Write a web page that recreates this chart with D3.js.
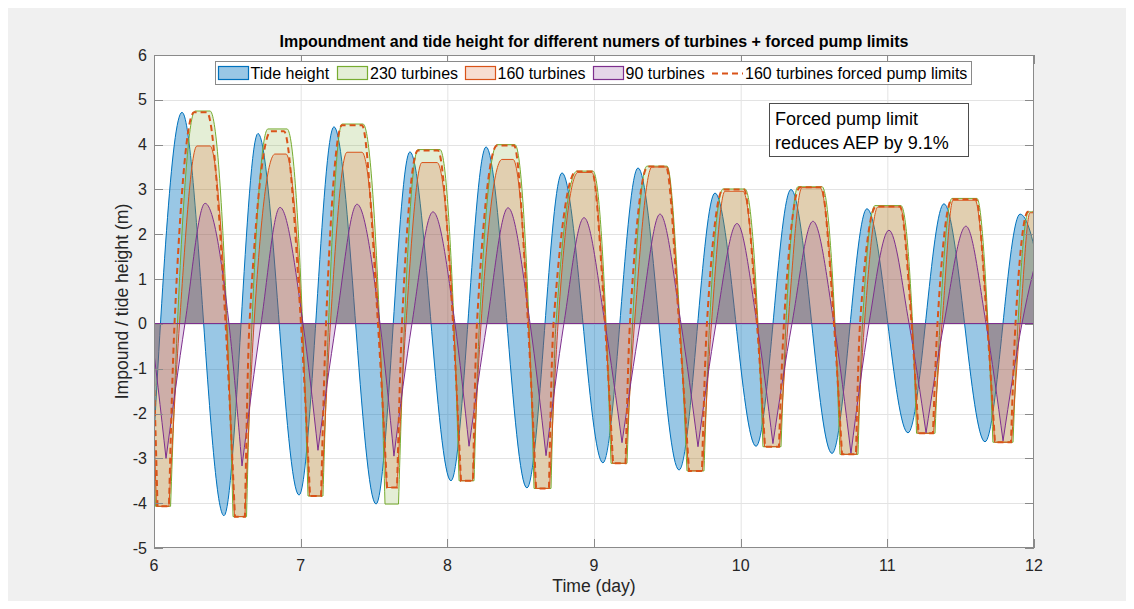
<!DOCTYPE html>
<html><head><meta charset="utf-8">
<script src="https://cdn.jsdelivr.net/npm/d3@7"></script>
<style>html,body{margin:0;padding:0;background:#fff;}svg{display:block;font-family:"Liberation Sans",Arial,Helvetica,sans-serif;}</style>
</head><body><svg id="c" width="1134" height="609"></svg>
<script>
// ---------- data ----------
const xTicks = [6, 7, 8, 9, 10, 11, 12];
const yTicks = [-5, -4, -3, -2, -1, 0, 1, 2, 3, 4, 5, 6];
const legendLabels = ["Tide height", "230 turbines", "160 turbines", "90 turbines", "160 turbines forced pump limits"];

// tide extremes (time in days, height in m)
const tideTime = [5.980, 6.191, 6.477, 6.709, 6.989, 7.227, 7.514, 7.745, 8.025, 8.264, 8.543, 8.782, 9.061, 9.300, 9.580, 9.825, 10.105, 10.343, 10.623, 10.861, 11.141, 11.386, 11.666, 11.905, 12.184];
const tideHeight = [-3.72, 4.72, -4.28, 4.25, -3.82, 4.40, -4.02, 3.84, -3.50, 3.95, -3.66, 3.37, -3.10, 3.48, -3.26, 2.92, -2.73, 3.00, -2.89, 2.57, -2.43, 2.68, -2.63, 2.45, -2.20];

// 230 turbines impoundment key points
const t230Time = [5.870, 5.973, 6.010, 6.113, 6.160, 6.280, 6.382, 6.498, 6.539, 6.631, 6.668, 6.777, 6.907, 7.013, 7.050, 7.152, 7.190, 7.282, 7.425, 7.538, 7.575, 7.667, 7.708, 7.800, 7.950, 8.045, 8.080, 8.182, 8.219, 8.339, 8.461, 8.557, 8.591, 8.707, 8.741, 8.884, 8.993, 9.082, 9.116, 9.225, 9.263, 9.361, 9.498, 9.586, 9.634, 9.750, 9.788, 9.880, 10.030, 10.118, 10.152, 10.275, 10.309, 10.391, 10.555, 10.643, 10.677, 10.800, 10.831, 10.916, 11.093, 11.172, 11.199, 11.325, 11.359, 11.441, 11.611, 11.686, 11.720, 11.857, 11.891, 11.963, 12.143];
const t230Level = [4.40, 0, -4.07, -4.07, 0, 4.75, 4.75, 0, -4.30, -4.30, 0, 4.35, 4.35, 0, -3.84, -3.84, 0, 4.46, 4.46, 0, -4.02, -4.02, 0, 3.89, 3.89, 0, -3.50, -3.50, 0, 4.00, 4.00, 0, -3.67, -3.67, 0, 3.41, 3.41, 0, -3.11, -3.11, 0, 3.52, 3.52, 0, -3.28, -3.28, 0, 3.01, 3.01, 0, -2.74, -2.74, 0, 3.06, 3.06, 0, -2.91, -2.91, 0, 2.64, 2.64, 0, -2.44, -2.44, 0, 2.80, 2.80, 0, -2.64, -2.64, 0, 2.50, 2.50];

// 160 turbines
const t160Time = [5.884, 5.973, 6.017, 6.102, 6.174, 6.293, 6.382, 6.494, 6.549, 6.620, 6.682, 6.825, 6.900, 7.009, 7.060, 7.142, 7.203, 7.316, 7.418, 7.534, 7.585, 7.657, 7.718, 7.827, 7.930, 8.042, 8.090, 8.172, 8.230, 8.373, 8.448, 8.553, 8.601, 8.697, 8.755, 8.891, 8.986, 9.078, 9.126, 9.215, 9.276, 9.395, 9.498, 9.583, 9.644, 9.740, 9.801, 9.893, 10.016, 10.115, 10.163, 10.265, 10.323, 10.418, 10.541, 10.640, 10.688, 10.790, 10.844, 10.936, 11.086, 11.168, 11.209, 11.315, 11.373, 11.448, 11.598, 11.683, 11.731, 11.847, 11.905, 11.973, 12.143];
const t160Level = [3.70, 0, -4.07, -4.07, 0, 3.97, 3.97, 0, -4.30, -4.30, 0, 3.79, 3.79, 0, -3.84, -3.84, 0, 3.83, 3.83, 0, -3.65, -3.65, 0, 3.60, 3.60, 0, -3.50, -3.50, 0, 3.67, 3.67, 0, -3.67, -3.67, 0, 3.38, 3.38, 0, -3.11, -3.11, 0, 3.50, 3.50, 0, -3.28, -3.28, 0, 2.96, 2.96, 0, -2.74, -2.74, 0, 3.04, 3.04, 0, -2.91, -2.91, 0, 2.61, 2.61, 0, -2.44, -2.44, 0, 2.76, 2.76, 0, -2.64, -2.64, 0, 2.48, 2.48];

// 90 turbines
const t90Time = [5.830, 5.973, 6.082, 6.211, 6.348, 6.511, 6.600, 6.730, 6.859, 7.016, 7.118, 7.241, 7.384, 7.541, 7.636, 7.759, 7.902, 8.052, 8.148, 8.270, 8.414, 8.564, 8.673, 8.795, 8.932, 9.075, 9.191, 9.314, 9.450, 9.593, 9.709, 9.832, 9.975, 10.111, 10.220, 10.350, 10.493, 10.636, 10.752, 10.875, 11.011, 11.148, 11.264, 11.386, 11.536, 11.673, 11.789, 11.918, 12.061];
const t90Level = [2.60, 0, -3.00, 0, 2.69, 0, -3.17, 0, 2.60, 0, -2.82, 0, 2.67, 0, -2.95, 0, 2.50, 0, -2.73, 0, 2.59, 0, -2.94, 0, 2.37, 0, -2.65, 0, 2.45, 0, -2.74, 0, 2.24, 0, -2.67, 0, 2.29, 0, -2.89, 0, 2.09, 0, -2.43, 0, 2.18, 0, -2.61, 0, 2.00];

// 160 turbines, forced pump limits
const tFpTime = [5.870, 5.986, 6.024, 6.102, 6.140, 6.273, 6.361, 6.488, 6.552, 6.620, 6.651, 6.798, 6.886, 7.002, 7.064, 7.139, 7.173, 7.282, 7.418, 7.527, 7.589, 7.657, 7.691, 7.800, 7.936, 8.039, 8.093, 8.175, 8.202, 8.339, 8.455, 8.550, 8.605, 8.693, 8.724, 8.877, 8.986, 9.075, 9.130, 9.215, 9.245, 9.368, 9.491, 9.580, 9.648, 9.736, 9.770, 9.880, 10.023, 10.111, 10.166, 10.261, 10.295, 10.405, 10.548, 10.636, 10.691, 10.786, 10.814, 10.923, 11.086, 11.165, 11.213, 11.311, 11.342, 11.441, 11.605, 11.680, 11.734, 11.843, 11.874, 11.959, 12.143];
const tFpLevel = [4.30, 0, -4.07, -4.07, 0, 4.72, 4.72, 0, -4.30, -4.30, 0, 4.30, 4.30, 0, -3.84, -3.84, 0, 4.43, 4.43, 0, -3.65, -3.65, 0, 3.87, 3.87, 0, -3.50, -3.50, 0, 3.98, 3.98, 0, -3.67, -3.67, 0, 3.40, 3.40, 0, -3.11, -3.11, 0, 3.51, 3.51, 0, -3.28, -3.28, 0, 3.00, 3.00, 0, -2.74, -2.74, 0, 3.05, 3.05, 0, -2.91, -2.91, 0, 2.62, 2.62, 0, -2.44, -2.44, 0, 2.78, 2.78, 0, -2.64, -2.64, 0, 2.50, 2.50];

const titleText = "Impoundment and tide height for different numers of turbines + forced pump limits";
const xLabel = "Time (day)";
const yLabel = "Impound / tide height (m)";
const noteLines = ["Forced pump limit", "reduces AEP by 9.1%"];

// ---------- drawing ----------
const svg = d3.select("#c");
const L = 154, R = 1034, T = 55, B = 548;
const x = d3.scaleLinear().domain([6, 12]).range([L, R]);
const y = d3.scaleLinear().domain([-5, 6]).range([B, T]);
const axisCol = "#262626";
const base = Math.floor(y(0)) + 0.5;

svg.append("rect").attr("x", 0).attr("y", 0).attr("width", 1134).attr("height", 609).attr("fill", "#fff");
svg.append("rect").attr("x", 8).attr("y", 8).attr("width", 1118).attr("height", 593).attr("fill", "#f0f0f0");
svg.append("rect").attr("x", L).attr("y", T).attr("width", R - L).attr("height", B - T).attr("fill", "#fff");

// grid
const g = svg.append("g");
g.selectAll(".gx").data(xTicks.slice(1, -1)).join("line")
  .attr("x1", d => x(d) + 0.5).attr("x2", d => x(d) + 0.5).attr("y1", T).attr("y2", B)
  .attr("stroke", "#e3e3e3").attr("stroke-width", 1);
g.selectAll(".gy").data(yTicks.slice(1, -1)).join("line")
  .attr("y1", d => Math.round(y(d)) + 0.5).attr("y2", d => Math.round(y(d)) + 0.5).attr("x1", L).attr("x2", R)
  .attr("stroke", "#e3e3e3").attr("stroke-width", 1);

svg.append("clipPath").attr("id", "clip").append("rect")
  .attr("x", L).attr("y", T).attr("width", R - L).attr("height", B - T);
const plot = svg.append("g").attr("clip-path", "url(#clip)");

const lineGen = d3.line().curve(d3.curveMonotoneX);
function smoothPath(ts, vs, sharp) {
  const pts = ts.map((t, i) => [x(t), vs[i] === 0 ? base : y(vs[i])]);
  let d = "", seg = [pts[0]];
  for (let i = 1; i < pts.length; i++) {
    seg.push(pts[i]);
    if (i === pts.length - 1 || (sharp && vs[i] < 0)) {
      const s = lineGen(seg);
      d += d ? "L" + s.slice(1) : s;
      seg = [pts[i]];
    }
  }
  return { d, first: pts[0], last: pts[pts.length - 1] };
}
function areaSeries(ts, vs, sharp, col, alpha) {
  const p = smoothPath(ts, vs, sharp);
  const d = p.d + `L${p.last[0]},${base}L${p.first[0]},${base}Z`;
  plot.append("path").attr("d", d).attr("fill", col).attr("fill-opacity", alpha)
    .attr("stroke", col).attr("stroke-width", 1).attr("stroke-linejoin", "round");
}
const cBlue = "#0072BD", cGreen = "#77AC30", cOrange = "#D95319", cPurple = "#7E2F8E";
areaSeries(tideTime, tideHeight, false, cBlue, 0.4);
areaSeries(t230Time, t230Level, true, cGreen, 0.2);
areaSeries(t160Time, t160Level, true, cOrange, 0.2);
areaSeries(t90Time, t90Level, true, cPurple, 0.2);
plot.append("path").attr("d", smoothPath(tFpTime, tFpLevel, true).d)
  .attr("fill", "none").attr("stroke", cOrange).attr("stroke-width", 2).attr("stroke-dasharray", "6,4");

// frame + ticks
const fr = svg.append("g").attr("stroke-width", 1).attr("fill", "none");
fr.append("rect").attr("x", L + 0.5).attr("y", T + 0.5).attr("width", R - L - 1).attr("height", B - T - 1).attr("stroke", "#8a8a8a");
const tl = 9;
xTicks.forEach(v => {
  const px = Math.round(x(v)) + 0.5;
  fr.append("line").attr("x1", px).attr("x2", px).attr("y1", B).attr("y2", B - tl).attr("stroke", "#8a8a8a");
  fr.append("line").attr("x1", px).attr("x2", px).attr("y1", T).attr("y2", T + tl).attr("stroke", "#8a8a8a");
});
yTicks.forEach(v => {
  const py = Math.round(y(v)) + 0.5;
  fr.append("line").attr("x1", L).attr("x2", L + tl).attr("y1", py).attr("y2", py).attr("stroke", "#8a8a8a");
  fr.append("line").attr("x1", R).attr("x2", R - tl).attr("y1", py).attr("y2", py).attr("stroke", "#8a8a8a");
});

// tick labels
svg.append("g").selectAll("text").data(xTicks).join("text")
  .attr("x", d => x(d)).attr("y", 571).attr("text-anchor", "middle")
  .attr("font-size", 16).attr("fill", axisCol).text(d => d);
svg.append("g").selectAll("text").data(yTicks).join("text")
  .attr("x", 147).attr("y", d => y(d) + 5.5).attr("text-anchor", "end")
  .attr("font-size", 16).attr("fill", axisCol).text(d => d);

// labels
svg.append("text").attr("x", (L + R) / 2).attr("y", 47).attr("text-anchor", "middle")
  .attr("font-size", 16).attr("font-weight", "bold").attr("fill", "#000").text(titleText);
svg.append("text").attr("x", (L + R) / 2).attr("y", 592).attr("text-anchor", "middle")
  .attr("font-size", 17.6).attr("fill", axisCol).text(xLabel);
svg.append("text").attr("transform", `translate(128,${(T + B) / 2}) rotate(-90)`).attr("text-anchor", "middle")
  .attr("font-size", 17.6).attr("fill", axisCol).text(yLabel);

// legend
const lg = svg.append("g");
lg.append("rect").attr("x", 215.5).attr("y", 61.5).attr("width", 756).attr("height", 23)
  .attr("fill", "#fff").attr("stroke", "#8a8a8a");
const swX = [218, 337, 465, 593];
const txX = [250.5, 370, 497.5, 625.5, 745];
const swCol = [cBlue, cGreen, cOrange, cPurple];
const swAlpha = [0.4, 0.2, 0.2, 0.2];
swX.forEach((sx, i) => {
  lg.append("rect").attr("x", sx + 0.5).attr("y", 66.5).attr("width", 30).attr("height", 13)
    .attr("fill", swCol[i]).attr("fill-opacity", swAlpha[i]).attr("stroke", swCol[i]).attr("stroke-width", 1.2);
});
lg.append("line").attr("x1", 712).attr("x2", 743).attr("y1", 73.5).attr("y2", 73.5)
  .attr("stroke", cOrange).attr("stroke-width", 2).attr("stroke-dasharray", "6,4");
legendLabels.forEach((t, i) => {
  lg.append("text").attr("x", txX[i]).attr("y", 79).attr("font-size", 16).attr("fill", "#000").text(t);
});

// annotation
const an = svg.append("g");
an.append("rect").attr("x", 769.5).attr("y", 103.5).attr("width", 199).attr("height", 53)
  .attr("fill", "#fff").attr("stroke", "#4d4d4d");
noteLines.forEach((t, i) => {
  an.append("text").attr("x", 775).attr("y", 124.5 + i * 24).attr("font-size", 18).attr("fill", "#000").text(t);
});
</script></body></html>
